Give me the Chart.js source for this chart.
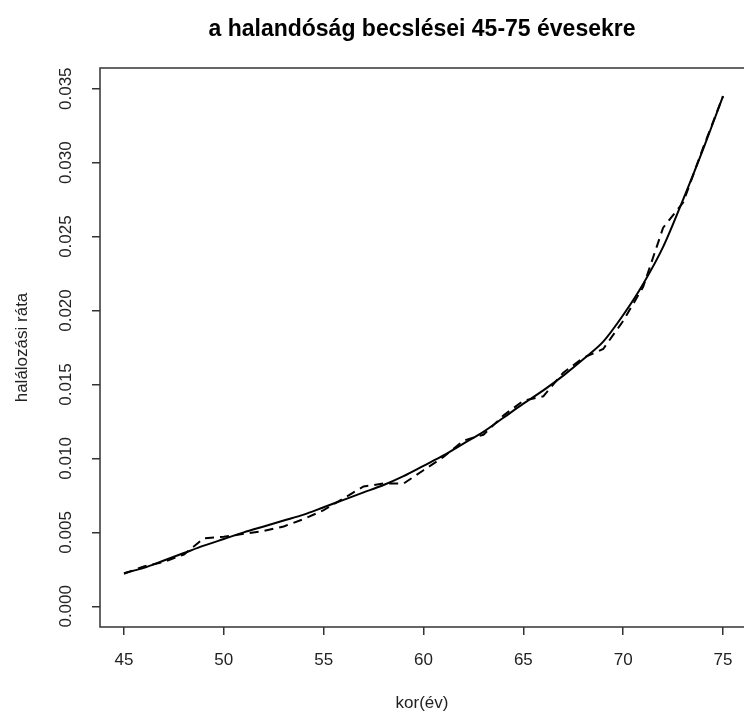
<!DOCTYPE html>
<html>
<head>
<meta charset="utf-8">
<script src="https://cdn.jsdelivr.net/npm/chart.js@4"></script>
<style>
  html, body { margin: 0; padding: 0; background: #fff; overflow: hidden; }
</style>
</head>
<body>
<canvas id="myChart-Mortality" width="752" height="713"></canvas>
<script>
const ages = [45, 46, 47, 48, 49, 50, 51, 52, 53, 54, 55, 56, 57, 58, 59, 60,
  61, 62, 63, 64, 65, 66, 67, 68, 69, 70, 71, 72, 73, 74, 75];

// kisimított becslés (folytonos vonal)
const smoothRate = [0.00224, 0.0026, 0.0031, 0.0036, 0.0041, 0.00455, 0.0050, 0.0054,
  0.0058, 0.0062, 0.0067, 0.0072, 0.0077, 0.0082, 0.0088, 0.0095, 0.0102, 0.0110,
  0.0118, 0.01275, 0.0137, 0.0146, 0.0156, 0.0167, 0.0179, 0.0197, 0.0218, 0.0243,
  0.0275, 0.0309, 0.0345];

// nyers becslés (szaggatott vonal)
const rawRate = [0.0022, 0.0027, 0.0030, 0.0035, 0.0046, 0.0047, 0.0049, 0.0051,
  0.0054, 0.0059, 0.0065, 0.0073, 0.0081, 0.0083, 0.0083, 0.0092, 0.0101, 0.0112,
  0.0116, 0.0129, 0.0139, 0.0142, 0.0158, 0.0168, 0.0174, 0.0193, 0.0216, 0.0256,
  0.0273, 0.0310, 0.0345];

const xTicks = [45, 50, 55, 60, 65, 70, 75];
const yTicks = [0, 0.005, 0.01, 0.015, 0.02, 0.025, 0.03, 0.035];
const yTickLabels = ['0.000', '0.005', '0.010', '0.015', '0.020', '0.025', '0.030', '0.035'];

const chartTitle = 'a halandóság becslései 45-75 évesekre';
const xTitle = 'kor(év)';
const yTitle = 'halálozási ráta';

const FONT = '"Liberation Sans", Arial, sans-serif';

const rPlot = {
  id: 'rPlot',
  afterDraw(chart) {
    const ctx = chart.ctx;
    const a = chart.chartArea;
    const y = chart.scales.y;
    ctx.save();
    // keret
    ctx.strokeStyle = '#333';
    ctx.lineWidth = 1.5;
    ctx.strokeRect(a.left, a.top, a.right - a.left, a.bottom - a.top);
    // cím
    ctx.fillStyle = '#000';
    ctx.textAlign = 'center';
    ctx.textBaseline = 'middle';
    ctx.font = 'bold 23px ' + FONT;
    ctx.fillText(chartTitle, 422, 30);
    // x tengely felirat
    ctx.fillStyle = '#222';
    ctx.font = '17px ' + FONT;
    ctx.fillText(xTitle, 422, 703);
    // y tengely feliratok, elforgatva
    yTicks.forEach((v, i) => {
      ctx.save();
      ctx.translate(66, y.getPixelForValue(v));
      ctx.rotate(-Math.PI / 2);
      ctx.fillText(yTickLabels[i], 0, 0);
      ctx.restore();
    });
    ctx.save();
    ctx.translate(22, (a.top + a.bottom) / 2);
    ctx.rotate(-Math.PI / 2);
    ctx.fillText(yTitle, 0, 0);
    ctx.restore();
    ctx.restore();
  }
};

const mortalityChart = document.getElementById('myChart-Mortality');

new Chart(mortalityChart, {
  type: 'line',
  data: {
    datasets: [
      {
        label: 'simított',
        data: ages.map((a, i) => ({ x: a, y: smoothRate[i] })),
        borderColor: '#000',
        borderWidth: 2,
        pointRadius: 0,
        tension: 0.3,
        fill: false
      }, {
        label: 'nyers',
        data: ages.map((a, i) => ({ x: a, y: rawRate[i] })),
        borderColor: '#000',
        borderWidth: 2,
        borderDash: [9, 6],
        pointRadius: 0,
        fill: false
      }]
  },
  options: {
    responsive: false,
    animation: false,
    layout: { padding: { top: 68, right: 5, left: 0, bottom: 0 } },
    plugins: {
      legend: { display: false },
      tooltip: { enabled: false }
    },
    scales: {
      x: {
        type: 'linear',
        min: 43.8,
        max: 76.2,
        afterBuildTicks: (scale) => { scale.ticks = xTicks.map(v => ({ value: v })); },
        afterFit: (scale) => { scale.height = 86; },
        border: { display: false },
        grid: { drawOnChartArea: false, tickLength: 8, color: '#333', lineWidth: 1.5 },
        ticks: {
          maxRotation: 0,
          autoSkip: false,
          color: '#222',
          padding: 15,
          font: { family: FONT, size: 17 }
        }
      },
      y: {
        type: 'linear',
        min: -0.0014,
        max: 0.0364,
        afterBuildTicks: (scale) => { scale.ticks = yTicks.map(v => ({ value: v })); },
        afterFit: (scale) => { scale.width = 100; },
        border: { display: false },
        grid: { drawOnChartArea: false, tickLength: 8, color: '#333', lineWidth: 1.5 },
        ticks: { display: false }
      }
    }
  },
  plugins: [rPlot]
});
</script>
</body>
</html>
